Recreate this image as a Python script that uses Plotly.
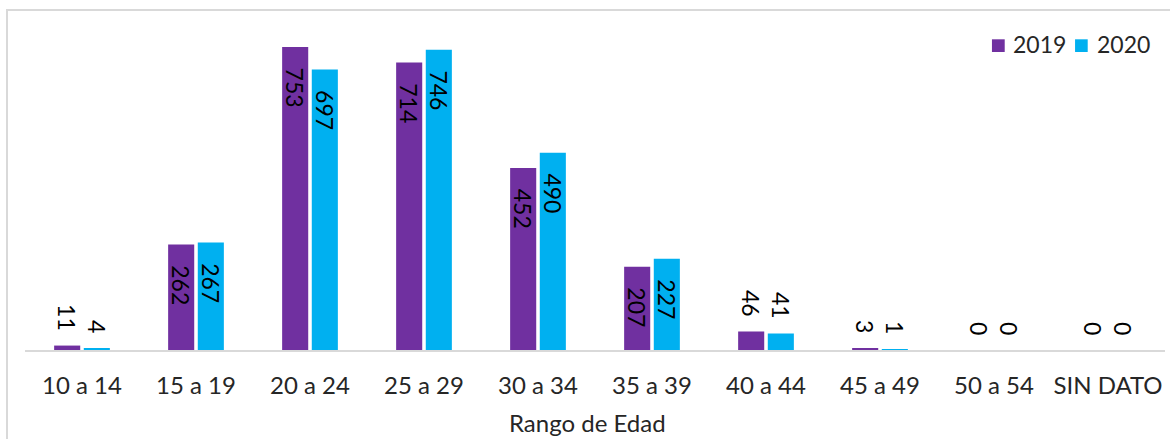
import plotly.graph_objects as go

categories = ["10 a 14", "15 a 19", "20 a 24", "25 a 29", "30 a 34",
              "35 a 39", "40 a 44", "45 a 49", "50 a 54", "SIN DATO"]
values_2019 = [11, 262, 753, 714, 452, 207, 46, 3, 0, 0]
values_2020 = [4, 267, 697, 746, 490, 227, 41, 1, 0, 0]
series_names = ["2019", "2020"]
colors = ["#7030A0", "#00B0F0"]

FONT = "Lato"
FS = 24
LFS = 23
NB = "\u00a0"

def labels(vals):
    txt, pos = [], []
    for v in vals:
        if v >= 100:
            txt.append(NB * 3 + str(v))
            pos.append("inside")
        else:
            txt.append(str(v) + NB * 2)
            pos.append("outside")
    return txt, pos

fig = go.Figure()
for name, vals, col in zip(series_names, [values_2019, values_2020], colors):
    txt, pos = labels(vals)
    fig.add_trace(go.Bar(
        x=categories, y=vals, name=name, marker_color=col,
        marker_line_width=0,
        text=txt, textposition=pos, textangle=90,
        insidetextanchor="end",
        textfont=dict(family=FONT, size=LFS, color="#000000"),
        constraintext="none", cliponaxis=False,
        showlegend=False,
    ))

# legend drawn as small squares + texts (top right)
legend_sq_x = [(0.8482, 0.8594), (0.9211, 0.9322)]
legend_tx_x = [0.8649, 0.9386]
shapes = [dict(type="rect", xref="paper", yref="paper",
               x0=-0.0158, x1=1.2, y0=-0.5, y1=1.056,
               line=dict(color="#d9d9d9", width=2), fillcolor="rgba(0,0,0,0)",
               layer="below")]
annotations = [dict(text="Rango de Edad", xref="paper", yref="paper",
                    x=0.493, y=0, yshift=-56, xanchor="center", yanchor="top",
                    showarrow=False,
                    font=dict(family=FONT, size=FS, color="#262626"))]
for name, col, (sx0, sx1), tx in zip(series_names, colors, legend_sq_x, legend_tx_x):
    shapes.append(dict(type="rect", xref="paper", yref="paper",
                       x0=sx0, x1=sx1, y0=0.9255, y1=0.9649,
                       line=dict(width=0), fillcolor=col))
    annotations.append(dict(text=name, xref="paper", yref="paper",
                            x=tx, y=0.9488, xanchor="left", yanchor="middle",
                            showarrow=False,
                            font=dict(family=FONT, size=LFS, color="#262626")))

fig.update_layout(
    width=1170, height=439,
    margin=dict(l=25, r=5, t=28, b=89),
    paper_bgcolor="white", plot_bgcolor="white",
    barmode="group", bargap=0.48, bargroupgap=0.12,
    font=dict(family=FONT, size=FS, color="#262626"),
    showlegend=False,
    xaxis=dict(showline=True, linecolor="#d9d9d9", linewidth=2,
               showgrid=False, ticks="", ticklabelstandoff=13,
               tickfont=dict(family=FONT, size=FS, color="#262626")),
    yaxis=dict(range=[0, 800], visible=False, showgrid=False, zeroline=False),
    annotations=annotations,
    shapes=shapes,
)

fig.write_html("out.html",
               config={"displayModeBar": False},
               post_script="document.body.style.margin='0';document.body.style.overflow='hidden';")
